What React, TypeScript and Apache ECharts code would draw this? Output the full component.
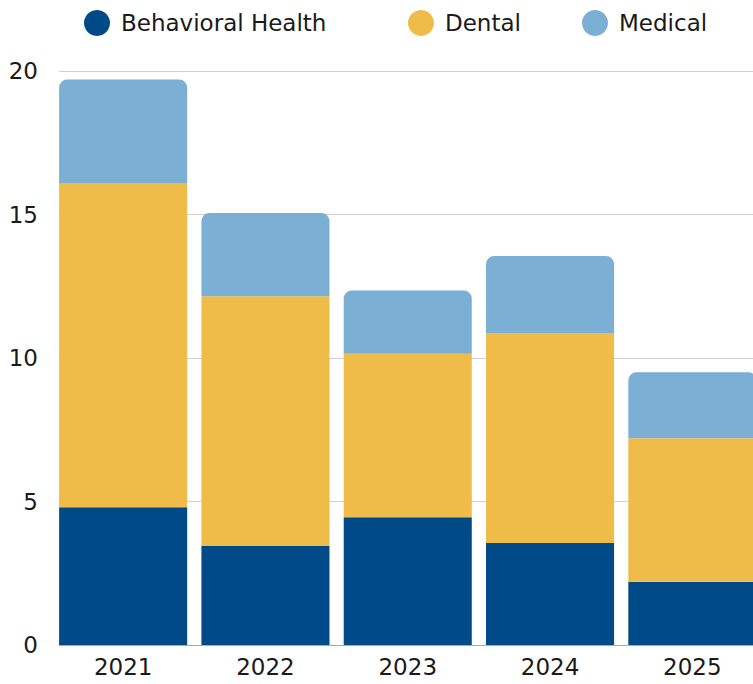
import React, { useEffect, useRef } from "react";
import * as echarts from "echarts";

const categories = ["2021", "2022", "2023", "2024", "2025"];
const seriesNames = ["Behavioral Health", "Dental", "Medical"];
const behavioralHealth = [4.8, 3.45, 4.45, 3.55, 2.2];
const dental = [11.3, 8.7, 5.7, 7.3, 5.0];
const medical = [3.6, 2.9, 2.2, 2.7, 2.3];
const yTicks = [0, 5, 10, 15, 20];

const FONT = "'DejaVu Sans', sans-serif";
const legendLefts = [79, 403, 577];

export default function App() {
  const ref = useRef<HTMLDivElement>(null);
  useEffect(() => {
    if (!ref.current) return;
    const chart = echarts.init(ref.current, null, { renderer: "svg" });
    const top = 71;
    const bottom = 39;
    chart.setOption({
      animation: false,
      legend: seriesNames.map((name, i) => ({
        top: 5,
        left: legendLefts[i],
        icon: "circle",
        itemWidth: 26,
        itemHeight: 26,
        textStyle: { fontFamily: FONT, fontSize: 23, color: "#1a1a1a", padding: [0, 0, 0, 6] },
        data: [name],
      })),
      grid: [
        { left: 59, right: 0, top, bottom, containLabel: false },
        { left: 52, right: 6.5, top, bottom, containLabel: false },
      ],
      xAxis: [
        {
          gridIndex: 0,
          type: "category",
          data: categories,
          axisLine: { show: true, lineStyle: { color: "#aaaaaa", width: 1 } },
          axisTick: { show: false },
          axisLabel: { show: false },
        },
        {
          gridIndex: 1,
          type: "category",
          data: categories,
          axisLine: { show: false },
          axisTick: { show: false },
          axisLabel: { fontFamily: FONT, fontSize: 23, color: "#1a1a1a", margin: 10 },
        },
      ],
      yAxis: [
        {
          gridIndex: 0,
          type: "value",
          min: yTicks[0],
          max: yTicks[yTicks.length - 1],
          interval: 5,
          axisLine: { show: false },
          axisTick: { show: false },
          splitLine: { lineStyle: { color: "#d0d0d0", width: 1 } },
          axisLabel: { fontFamily: FONT, fontSize: 23, color: "#1a1a1a", margin: 21 },
        },
        {
          gridIndex: 1,
          type: "value",
          min: 0,
          max: 20,
          interval: 5,
          show: false,
        },
      ],
      series: [
        {
          name: seriesNames[0],
          type: "bar",
          stack: "t",
          xAxisIndex: 1,
          yAxisIndex: 1,
          barWidth: "90%",
          data: behavioralHealth,
          itemStyle: { color: "#004B87" },
        },
        {
          name: seriesNames[1],
          type: "bar",
          stack: "t",
          xAxisIndex: 1,
          yAxisIndex: 1,
          barWidth: "90%",
          data: dental,
          itemStyle: { color: "#EFBC49" },
        },
        {
          name: seriesNames[2],
          type: "bar",
          stack: "t",
          xAxisIndex: 1,
          yAxisIndex: 1,
          barWidth: "90%",
          data: medical,
          itemStyle: { color: "#7BAFD4", borderRadius: [8, 8, 0, 0] },
        },
      ],
    });
    return () => chart.dispose();
  }, []);
  return (
    <div style={{ position: "fixed", left: 0, top: 0, width: 753, height: 684, overflow: "hidden", background: "#fff" }}>
      <div ref={ref} style={{ width: 770, height: 684 }} />
    </div>
  );
}
